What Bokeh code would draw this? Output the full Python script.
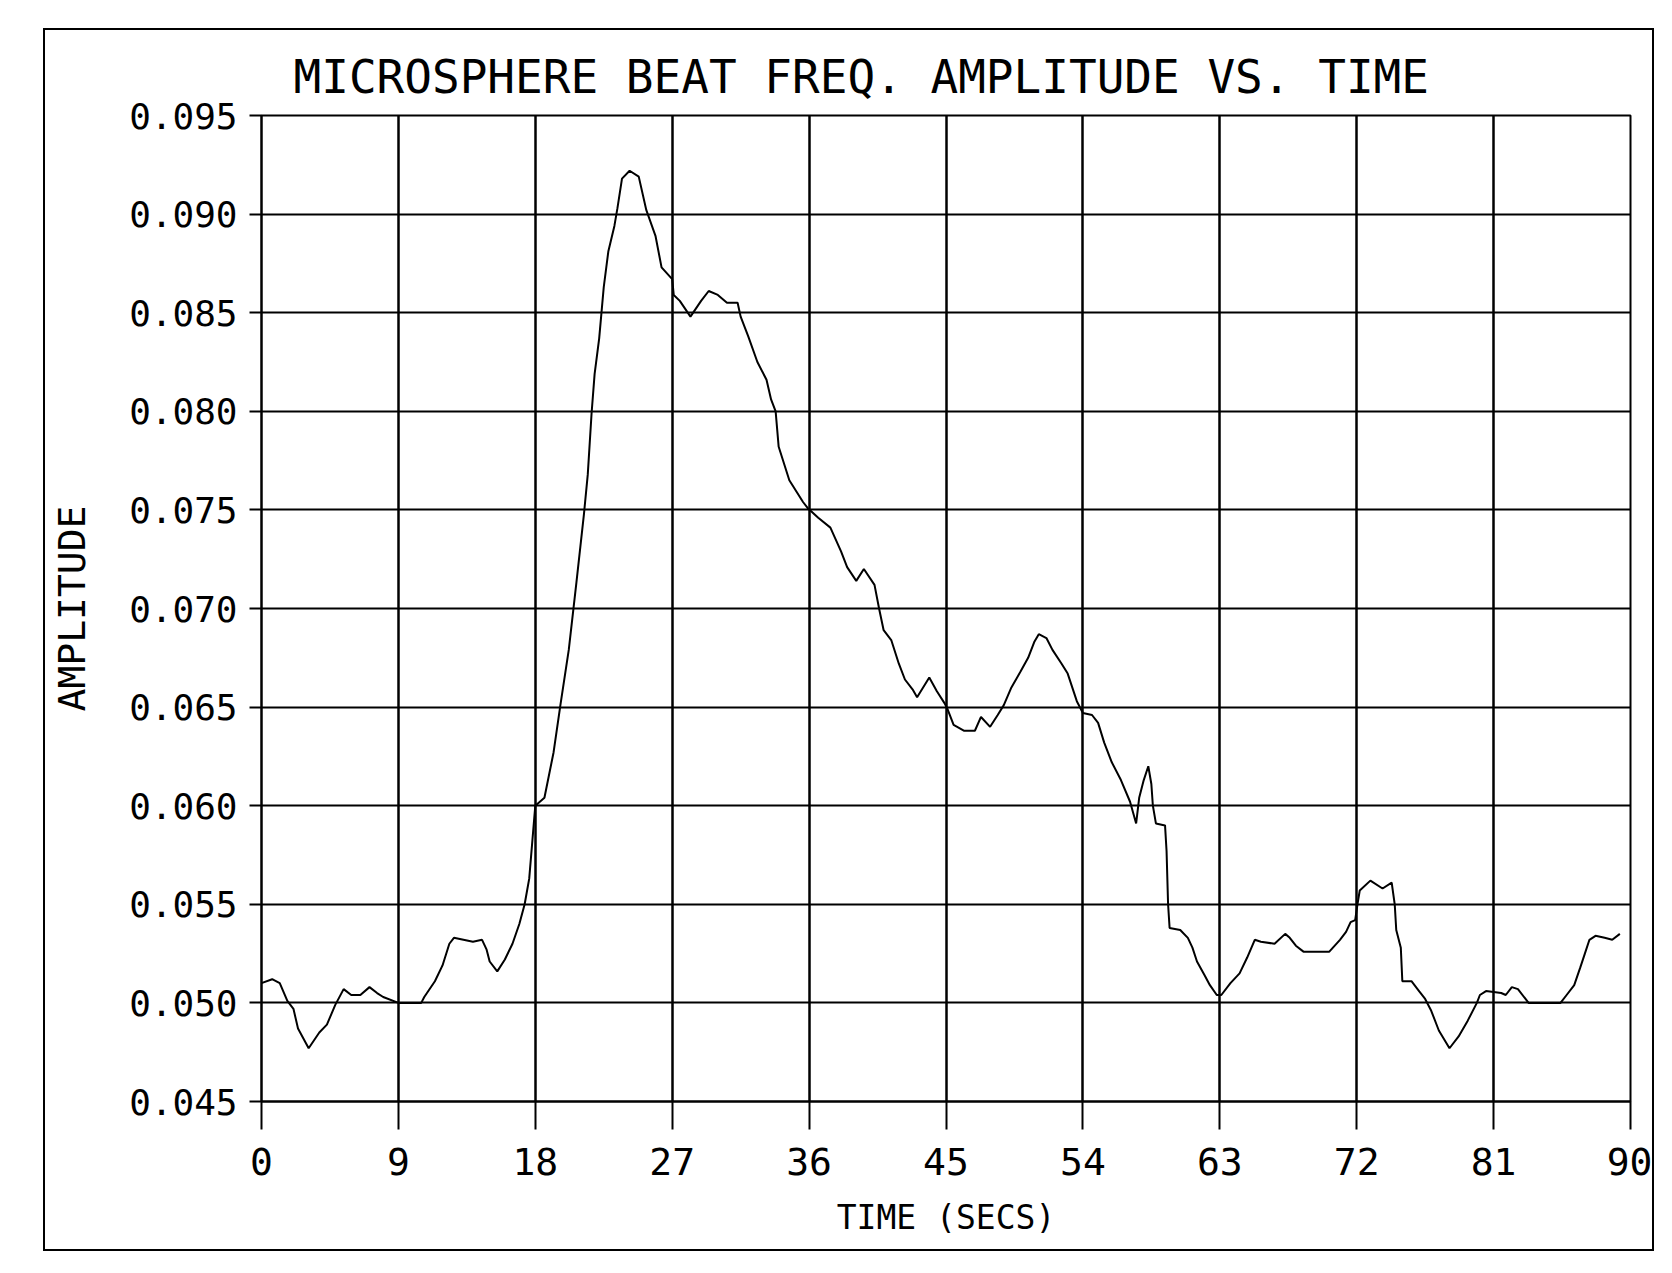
from bokeh.plotting import figure
from bokeh.models import FixedTicker, PrintfTickFormatter
from bokeh.embed import file_html
from bokeh.resources import INLINE

# Readings taken from the plotted trace (time in seconds, amplitude)
time_s = [0.0, 0.7, 1.2, 1.7, 2.1, 2.4, 3.1, 3.8, 4.3, 4.85, 5.4, 5.9, 6.5, 7.1, 7.6, 8.0,
          9.0, 10.5, 10.7, 11.4, 11.9, 12.35, 12.65, 13.9, 14.5, 14.8, 15.0, 15.5, 16.0,
          16.5, 16.95, 17.3, 17.6, 18.0, 18.6, 19.2, 19.65, 20.2, 20.7, 21.2, 21.45, 21.7,
          21.9, 22.2, 22.5, 22.8, 23.2, 23.4, 23.7, 24.2, 24.8, 25.3, 25.9, 26.3, 27.0,
          27.1, 27.5, 28.2, 28.9, 29.4, 30.0, 30.6, 31.3, 31.5, 32.0, 32.6, 33.2, 33.5,
          33.8, 34.0, 34.7, 35.6, 35.9, 36.6, 37.4, 38.1, 38.5, 39.1, 39.6, 40.3, 40.6,
          40.9, 41.4, 41.9, 42.3, 42.8, 43.1, 43.9, 44.4, 44.9, 45.1, 45.5, 46.2, 46.9,
          47.3, 47.9, 48.4, 48.8, 49.3, 49.9, 50.4, 50.8, 51.1, 51.6, 52.0, 52.6, 53.0,
          53.6, 54.0, 54.6, 55.0, 55.4, 55.9, 56.5, 57.1, 57.5, 57.7, 58.0, 58.3, 58.5,
          58.6, 58.8, 59.4, 59.5, 59.6, 59.7, 60.4, 60.9, 61.2, 61.5, 62.0, 62.35, 62.8,
          63.1, 63.7, 64.3, 64.8, 65.3, 65.7, 66.6, 67.3, 67.6, 68.0, 68.5, 69.4, 70.2,
          70.9, 71.3, 71.6, 71.9, 72.05, 72.2, 72.9, 73.7, 74.3, 74.5, 74.6, 74.9, 75.0,
          75.6, 76.1, 76.5, 76.9, 77.4, 78.1, 78.7, 79.3, 79.9, 80.1, 80.5, 81.5, 81.8,
          82.2, 82.6, 83.1, 83.3, 85.4, 85.8, 86.3, 86.7, 87.0, 87.3, 87.7, 88.3, 88.8,
          89.3]
amplitude = [0.0510, 0.0512, 0.0510, 0.0501, 0.0497, 0.0487, 0.0477, 0.0485, 0.0489, 0.0499,
             0.0507, 0.0504, 0.0504, 0.0508, 0.0505, 0.0503,
             0.0500, 0.0500, 0.0503, 0.0511, 0.0519, 0.0530, 0.0533, 0.0531, 0.0532, 0.0527,
             0.0521, 0.0516, 0.0522,
             0.0530, 0.0540, 0.0550, 0.0563, 0.0600, 0.0604, 0.0627, 0.0651, 0.0679, 0.0713,
             0.0748, 0.0768, 0.0799,
             0.0819, 0.0837, 0.0863, 0.0881, 0.0894, 0.0903, 0.0918, 0.0922, 0.0919, 0.0902,
             0.0889, 0.0873, 0.0867,
             0.0859, 0.0856, 0.0848, 0.0856, 0.0861, 0.0859, 0.0855, 0.0855, 0.0848, 0.0838,
             0.0825, 0.0816, 0.0806,
             0.0800, 0.0782, 0.0765, 0.0754, 0.0751, 0.0746, 0.0741, 0.0729, 0.0721, 0.0714,
             0.0720, 0.0712, 0.0700,
             0.0689, 0.0684, 0.0672, 0.0664, 0.0659, 0.0655, 0.0665, 0.0658, 0.0652, 0.0649,
             0.0641, 0.0638, 0.0638,
             0.0645, 0.0640, 0.0646, 0.0651, 0.0660, 0.0668, 0.0675, 0.0683, 0.0687, 0.0685,
             0.0679, 0.0672, 0.0667,
             0.0653, 0.0647, 0.0646, 0.0642, 0.0632, 0.0622, 0.0613, 0.0602, 0.0591, 0.0604,
             0.0613, 0.0620, 0.0611,
             0.0600, 0.0591, 0.0590, 0.0577, 0.0550, 0.0538, 0.0537, 0.0533, 0.0528, 0.0521,
             0.0514, 0.0509, 0.0504,
             0.0504, 0.0510, 0.0515, 0.0523, 0.0532, 0.0531, 0.0530, 0.0535, 0.0533, 0.0529,
             0.0526, 0.0526, 0.0526,
             0.0532, 0.0536, 0.0541, 0.0542, 0.0550, 0.0557, 0.0562, 0.0558, 0.0561, 0.0550,
             0.0537, 0.0528, 0.0511,
             0.0511, 0.0506, 0.0502, 0.0496, 0.0486, 0.0477, 0.0483, 0.0491, 0.0500, 0.0504,
             0.0506, 0.0505, 0.0504,
             0.0508, 0.0507, 0.0502, 0.0500, 0.0500, 0.0504, 0.0509, 0.0518, 0.0525, 0.0532,
             0.0534, 0.0533, 0.0532,
             0.0535]

x_ticks = [0, 9, 18, 27, 36, 45, 54, 63, 72, 81, 90]
y_ticks = [0.045, 0.050, 0.055, 0.060, 0.065, 0.070, 0.075, 0.080, 0.085, 0.090, 0.095]

title_text = "MICROSPHERE BEAT FREQ. AMPLITUDE VS. TIME"
x_label = "TIME (SECS)"
y_label = "AMPLITUDE"

FONT = "DejaVu Sans Mono"

p = figure(width=1611, height=1223, x_range=(0, 90), y_range=(0.045, 0.095),
           output_backend="svg", toolbar_location=None,
           min_border_left=216, min_border_right=26, min_border_top=85, min_border_bottom=152,
           title=title_text)

# outer page frame around the whole chart
p.styles = {"border": "2px solid black", "margin-left": "43px", "margin-top": "28px"}

p.title.text_font = FONT
p.title.text_font_size = "46px"
p.title.text_font_style = "normal"
p.title.text_color = "black"
p.title.align = "left"
p.title.offset = 32
p.title.standoff = 24

p.background_fill_color = "white"
p.border_fill_color = "white"
p.outline_line_color = "black"
p.outline_line_width = 2

p.line(time_s, amplitude, line_color="black", line_width=2)

p.xaxis.ticker = FixedTicker(ticks=x_ticks)
p.yaxis.ticker = FixedTicker(ticks=y_ticks)
p.yaxis.formatter = PrintfTickFormatter(format="%.3f")

for ax in (p.xaxis, p.yaxis):
    ax.axis_line_color = "black"
    ax.axis_line_width = 2
    ax.major_tick_line_color = "black"
    ax.major_tick_line_width = 2
    ax.minor_tick_line_color = None
    ax.major_tick_in = 0
    ax.major_label_text_font = FONT
    ax.major_label_text_color = "black"
    ax.axis_label_text_font = FONT
    ax.axis_label_text_font_style = "normal"
    ax.axis_label_text_color = "black"

p.xaxis.major_tick_out = 28
p.xaxis.major_label_standoff = 18
p.xaxis.major_label_text_font_size = "38px"
p.xaxis.axis_label = x_label
p.xaxis.axis_label_text_font_size = "33px"
p.xaxis.axis_label_standoff = 20

p.yaxis.major_tick_out = 12
p.yaxis.major_label_standoff = 12
p.yaxis.major_label_text_font_size = "36px"
p.yaxis.axis_label = y_label
p.yaxis.axis_label_text_font_size = "38px"
p.yaxis.axis_label_standoff = 32

p.xgrid.ticker = FixedTicker(ticks=x_ticks)
p.ygrid.ticker = FixedTicker(ticks=y_ticks)
p.xgrid.grid_line_color = "black"
p.xgrid.grid_line_width = 2.5
p.ygrid.grid_line_color = "black"
p.ygrid.grid_line_width = 2

open("out.html", "w").write(file_html(p, INLINE))
